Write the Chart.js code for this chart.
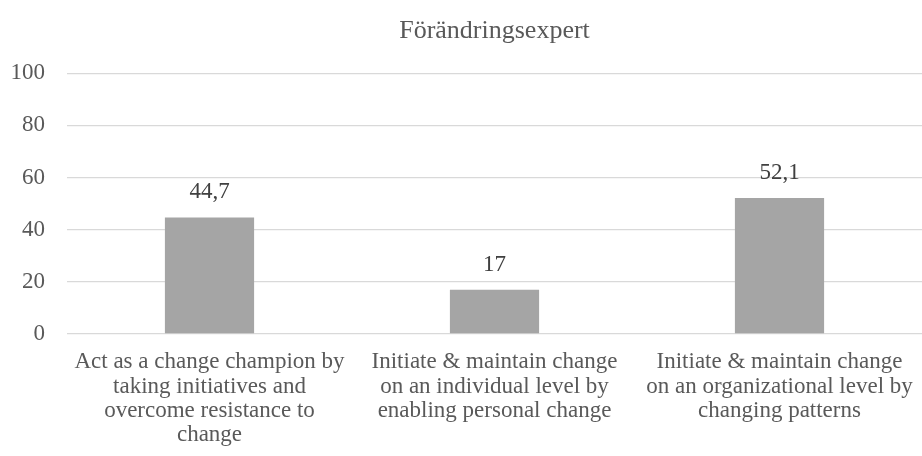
<!DOCTYPE html>
<html>
<head>
<meta charset="utf-8">
<script src="https://cdn.jsdelivr.net/npm/chart.js@4.4.1/dist/chart.umd.min.js"></script>
<style>
  html, body { margin: 0; padding: 0; background: #ffffff; }
  #wrap { width: 922px; height: 456px; }
</style>
</head>
<body>
<div id="wrap"><canvas id="chart" width="922" height="456"></canvas></div>
<script>
// Data
const chartTitle = "Förändringsexpert";
const categories = [
    ["Act as a change champion by", "taking initiatives and", "overcome resistance to", "change"],
    ["Initiate & maintain change", "on an individual level by", "enabling personal change"],
    ["Initiate & maintain change", "on an organizational level by", "changing patterns"]
];
const values = [44.7, 17, 52.1];
const yTicks = [0, 20, 40, 60, 80, 100];

const textColor = "#595959";
const fontFamily = "'Liberation Serif', 'Times New Roman', serif";

// Etiquetas de valor sobre cada barra
const valueLabels = {
    id: "valueLabels",
    afterDatasetsDraw(chart) {
        const ctx = chart.ctx;
        const meta = chart.getDatasetMeta(0);
        ctx.save();
        ctx.font = "23px " + fontFamily;
        ctx.fillStyle = "#404040";
        ctx.textAlign = "center";
        ctx.textBaseline = "alphabetic";
        meta.data.forEach((bar, i) => {
            const txt = String(values[i]).replace(".", ",");
            ctx.fillText(txt, bar.x, bar.y - 19);
        });
        ctx.restore();
    }
};

const ctx = document.getElementById("chart").getContext("2d");
new Chart(ctx, {
    type: "bar",
    data: {
        labels: categories,
        datasets: [{
            data: values,
            backgroundColor: "#a5a5a5",
            categoryPercentage: 1,
            barPercentage: 0.313
        }]
    },
    options: {
        responsive: false,
        animation: false,
        layout: { padding: { left: 0, right: -7, top: 0, bottom: 0 } },
        plugins: {
            legend: { display: false },
            tooltip: { enabled: false },
            title: {
                display: true,
                text: chartTitle,
                fullSize: false,
                color: textColor,
                font: { family: fontFamily, size: 26, weight: "normal" },
                padding: { top: 16, bottom: 26 }
            }
        },
        scales: {
            x: {
                afterFit(scale) { scale.height = 122; },
                grid: { display: false },
                border: { display: false },
                ticks: {
                    color: textColor,
                    font: { family: fontFamily, size: 23, lineHeight: 1.06 },
                    padding: 8,
                    maxRotation: 0,
                    autoSkip: false
                }
            },
            y: {
                min: 0,
                max: 100,
                afterBuildTicks(scale) {
                    scale.ticks = yTicks.map(v => ({ value: v }));
                },
                afterFit(scale) { scale.width = 67; },
                grid: { color: "#d9d9d9", lineWidth: 1.3, drawTicks: false },
                border: { display: false },
                ticks: {
                    color: textColor,
                    font: { family: fontFamily, size: 23 },
                    padding: 22
                }
            }
        }
    },
    plugins: [valueLabels]
});
</script>
</body>
</html>
